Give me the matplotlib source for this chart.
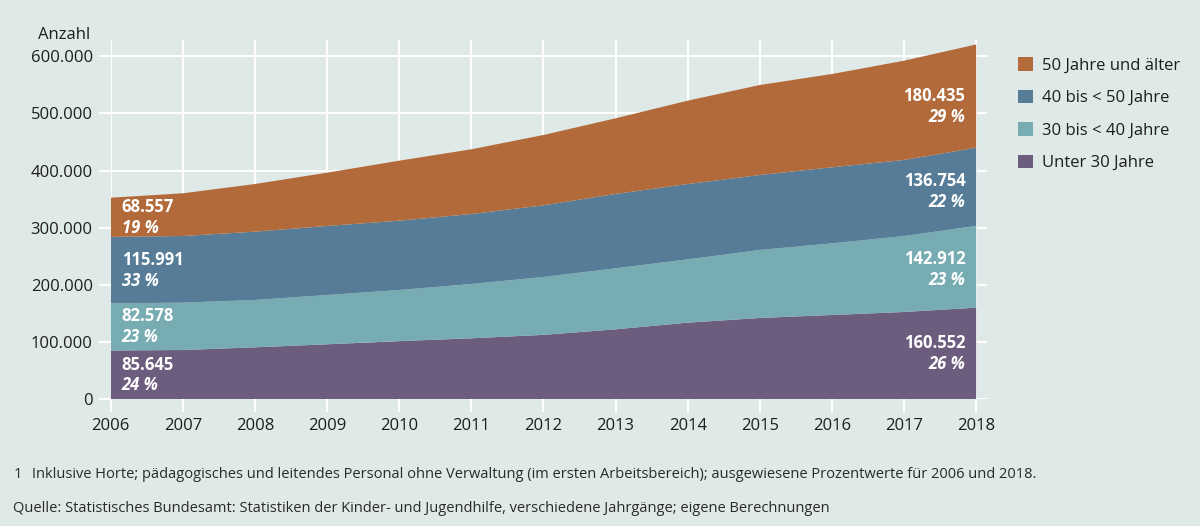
import numpy as np
import matplotlib.pyplot as plt
from matplotlib.patches import Patch

plt.rcParams["font.family"] = ["Open Sans", "DejaVu Sans"]

years = list(range(2006, 2019))

unter_30 = [85645, 86500, 91200, 96500, 102000, 107000, 113000, 122700, 134300, 142500, 147700, 153000, 160552]
j30_40 = [82578, 82800, 82800, 86200, 89400, 94900, 101200, 106700, 110700, 118900, 125300, 132800, 142912]
j40_50 = [115991, 116500, 119400, 120600, 121200, 122400, 125200, 129900, 131700, 131100, 132900, 132900, 136754]
ab_50 = [68557, 74700, 83300, 93200, 104900, 113100, 123000, 132300, 145700, 157300, 163100, 173600, 180435]

series_names = ["Unter 30 Jahre", "30 bis < 40 Jahre", "40 bis < 50 Jahre", "50 Jahre und älter"]
colors = ["#6c5c7d", "#77acb2", "#567c98", "#b36a3a"]

pct_2006 = ["24 %", "23 %", "33 %", "19 %"]
pct_2018 = ["26 %", "23 %", "22 %", "29 %"]

y_ticks = [0, 100000, 200000, 300000, 400000, 500000, 600000]
y_tick_labels = ["0", "100.000", "200.000", "300.000", "400.000", "500.000", "600.000"]

bg = "#dfe9e7"
text_col = "#1e1e1e"


def fmt_de(v):
    return f"{v:,}".replace(",", ".")


fig = plt.figure(figsize=(12, 5.26), dpi=100, facecolor=bg)
ax = fig.add_axes([0.0923, 0.2405, 0.7302, 0.6835])
ax.set_facecolor(bg)

data = np.array([unter_30, j30_40, j40_50, ab_50])
ax.stackplot(years, data, colors=colors, zorder=2, linewidth=0)

ax.set_xlim(2006, 2018.15)
ax.set_ylim(0, 628500)
ax.set_xticks(years)
ax.set_yticks(y_ticks)
ax.set_yticklabels(y_tick_labels)
ax.grid(True, color="white", linewidth=1.5, zorder=0)
ax.set_axisbelow(True)
for s in ax.spines.values():
    s.set_visible(False)
ax.tick_params(axis="both", colors="white", length=9, width=1.5, labelsize=12,
               labelcolor=text_col, pad=4)

fig.text(0.075, 0.918, "Anzahl", ha="right", va="bottom", fontsize=12, color=text_col)

# Beschriftung der Flächen für 2006 und 2018
bottoms = np.vstack([np.zeros(len(years)), np.cumsum(data, axis=0)[:-1]])
fracs_2018 = [0.5, 0.47, 0.44, 0.4]
for i in range(4):
    b0, h0 = bottoms[i][0], data[i][0]
    y0 = b0 + h0 * 0.5
    ax.text(2006.15, y0 + 2500, fmt_de(int(data[i][0])), ha="left", va="bottom",
            fontsize=12, fontweight="bold", color="white", zorder=3)
    ax.text(2006.15, y0 - 2500, pct_2006[i], ha="left", va="top", fontsize=12,
            fontweight="bold", style="italic", color="white", zorder=3)
    b1, h1 = bottoms[i][-1], data[i][-1]
    y1 = b1 + h1 * fracs_2018[i]
    ax.text(2017.85, y1 + 2500, fmt_de(int(data[i][-1])), ha="right", va="bottom",
            fontsize=12, fontweight="bold", color="white", zorder=3)
    ax.text(2017.85, y1 - 2500, pct_2018[i], ha="right", va="top", fontsize=12,
            fontweight="bold", style="italic", color="white", zorder=3)

handles = [Patch(facecolor=c, edgecolor="none") for c in colors[::-1]]
fig.legend(handles, series_names[::-1], loc="upper left", bbox_to_anchor=(0.836, 0.92),
           frameon=False, fontsize=12, handlelength=0.9, handleheight=0.9,
           handletextpad=0.55, labelspacing=0.95, labelcolor=text_col)

fig.text(0.011, 0.097, "1", fontsize=10.5, color="#2a2a2a", va="center")
fig.text(0.027, 0.097,
         "Inklusive Horte; pädagogisches und leitendes Personal ohne Verwaltung "
         "(im ersten Arbeitsbereich); ausgewiesene Prozentwerte für 2006 und 2018.",
         fontsize=10.5, color="#2a2a2a", va="center")
fig.text(0.011, 0.034,
         "Quelle: Statistisches Bundesamt: Statistiken der Kinder- und Jugendhilfe, "
         "verschiedene Jahrgänge; eigene Berechnungen",
         fontsize=10.5, color="#2a2a2a", va="center")

fig.savefig("out.png", dpi=100, facecolor=bg)
